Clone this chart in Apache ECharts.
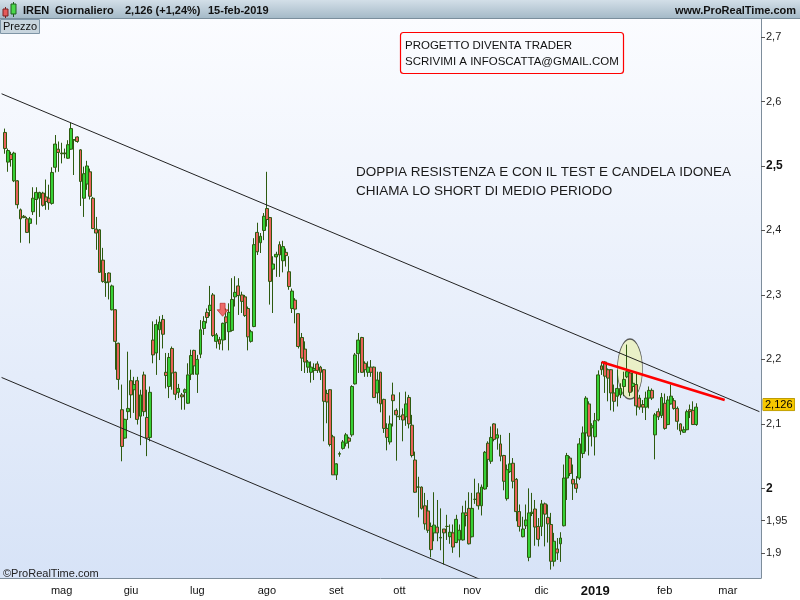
<!DOCTYPE html>
<html>
<head>
<meta charset="utf-8">
<title>IREN Giornaliero</title>
<script src="https://cdn.jsdelivr.net/npm/echarts@6/dist/echarts.min.js"></script>
<style>
html, body { margin: 0; padding: 0; background: #fff; }
#chart { width: 800px; height: 600px; }
</style>
</head>
<body>
<div id="chart"></div>
<script>
// giorni di chiusura della borsa nel periodo
var holidays = ['2018-05-01', '2018-08-15', '2018-12-24', '2018-12-25', '2018-12-26', '2018-12-31', '2019-01-01'];
var axisStart = '2018-04-04';   // slot vuoto prima della prima candela
var axisEnd = '2019-03-15';
var firstCandle = '2018-04-05';
var monthNames = ['gen', 'feb', 'mar', 'apr', 'mag', 'giu', 'lug', 'ago', 'set', 'ott', 'nov', 'dic'];
var priceTicks = [1.9, 1.95, 2, 2.1, 2.2, 2.3, 2.4, 2.5, 2.6, 2.7];
var boldTicks = [2, 2.5];
var lastPrice = 2.126;

// trendline e annotazioni [data, prezzo]
var channelTop = [['2018-04-04', 2.612], ['2019-03-15', 2.119]];
var channelBottom = [['2018-04-04', 2.172], ['2019-03-15', 1.676]];
var resistance = [['2019-01-04', 2.196], ['2019-02-28', 2.137]];
var ellipseAt = [['2019-01-17', 2.185]];
var arrowAt = [['2018-07-12', 2.277]];

// candele giornaliere [open, close, low, high]
var candles = [
    [2.552, 2.527, 2.519, 2.558], [2.506, 2.524, 2.491, 2.527], [2.518, 2.510, 2.499, 2.522], [2.477, 2.520, 2.475, 2.522],
    [2.477, 2.440, 2.434, 2.478], [2.432, 2.418, 2.381, 2.434], [2.422, 2.420, 2.419, 2.424], [2.418, 2.397, 2.396, 2.421],
    [2.411, 2.418, 2.380, 2.421], [2.429, 2.450, 2.424, 2.467], [2.448, 2.459, 2.409, 2.467], [2.450, 2.459, 2.421, 2.460],
    [2.458, 2.439, 2.437, 2.460], [2.452, 2.445, 2.432, 2.479], [2.450, 2.443, 2.432, 2.471], [2.442, 2.490, 2.440, 2.498],
    [2.498, 2.534, 2.490, 2.548], [2.526, 2.521, 2.491, 2.538], [2.520, 2.519, 2.504, 2.536], [2.519, 2.520, 2.512, 2.527],
    [2.512, 2.533, 2.511, 2.540], [2.526, 2.558, 2.525, 2.567], [2.540, 2.541, 2.486, 2.541], [2.545, 2.538, 2.536, 2.546],
    [2.525, 2.476, 2.438, 2.526], [2.450, 2.488, 2.421, 2.499], [2.472, 2.500, 2.463, 2.508], [2.491, 2.453, 2.448, 2.496],
    [2.450, 2.403, 2.402, 2.452], [2.402, 2.396, 2.370, 2.421], [2.401, 2.335, 2.334, 2.402], [2.354, 2.321, 2.319, 2.373],
    [2.319, 2.320, 2.297, 2.334], [2.334, 2.320, 2.293, 2.335], [2.277, 2.314, 2.276, 2.316], [2.277, 2.228, 2.184, 2.278],
    [2.225, 2.169, 2.153, 2.226], [2.122, 2.065, 2.042, 2.161], [2.078, 2.107, 2.077, 2.108], [2.119, 2.124, 2.106, 2.212],
    [2.167, 2.145, 2.109, 2.184], [2.153, 2.161, 2.117, 2.173], [2.167, 2.107, 2.099, 2.173], [2.112, 2.145, 2.067, 2.153],
    [2.176, 2.119, 2.112, 2.181], [2.110, 2.078, 2.050, 2.153], [2.079, 2.149, 2.073, 2.158], [2.230, 2.207, 2.194, 2.259],
    [2.210, 2.254, 2.176, 2.262], [2.246, 2.258, 2.199, 2.267], [2.262, 2.239, 2.217, 2.269], [2.180, 2.175, 2.155, 2.210],
    [2.158, 2.203, 2.140, 2.210], [2.217, 2.179, 2.153, 2.220], [2.180, 2.146, 2.137, 2.181], [2.149, 2.155, 2.140, 2.162],
    [2.145, 2.142, 2.122, 2.148], [2.149, 2.153, 2.122, 2.155], [2.132, 2.176, 2.131, 2.194], [2.177, 2.206, 2.168, 2.215],
    [2.214, 2.190, 2.176, 2.215], [2.177, 2.200, 2.148, 2.207], [2.208, 2.246, 2.202, 2.261], [2.248, 2.259, 2.238, 2.267],
    [2.273, 2.265, 2.256, 2.279], [2.276, 2.284, 2.267, 2.314], [2.300, 2.237, 2.235, 2.303], [2.228, 2.238, 2.217, 2.241],
    [2.231, 2.224, 2.215, 2.235], [2.230, 2.256, 2.214, 2.257], [2.266, 2.257, 2.230, 2.279], [2.243, 2.273, 2.214, 2.287],
    [2.245, 2.293, 2.243, 2.326], [2.297, 2.304, 2.282, 2.329], [2.314, 2.299, 2.269, 2.326], [2.300, 2.290, 2.272, 2.305],
    [2.297, 2.268, 2.266, 2.300], [2.279, 2.235, 2.214, 2.282], [2.228, 2.243, 2.226, 2.246], [2.251, 2.378, 2.250, 2.388],
    [2.397, 2.367, 2.362, 2.412], [2.381, 2.391, 2.365, 2.396], [2.400, 2.422, 2.385, 2.427], [2.434, 2.417, 2.406, 2.491],
    [2.420, 2.321, 2.285, 2.421], [2.340, 2.348, 2.272, 2.360], [2.359, 2.363, 2.328, 2.367], [2.378, 2.362, 2.328, 2.383],
    [2.353, 2.375, 2.335, 2.384], [2.366, 2.361, 2.344, 2.372], [2.336, 2.313, 2.308, 2.360], [2.279, 2.306, 2.272, 2.310],
    [2.292, 2.278, 2.256, 2.295], [2.271, 2.220, 2.217, 2.271], [2.234, 2.202, 2.182, 2.241], [2.216, 2.196, 2.179, 2.228],
    [2.188, 2.196, 2.179, 2.199], [2.180, 2.188, 2.164, 2.197], [2.183, 2.186, 2.168, 2.194], [2.193, 2.183, 2.179, 2.197],
    [2.188, 2.180, 2.168, 2.190], [2.184, 2.135, 2.073, 2.185], [2.147, 2.134, 2.101, 2.153], [2.153, 2.068, 2.065, 2.154],
    [2.080, 2.021, 2.021, 2.083], [2.021, 2.038, 2.013, 2.039], [2.053, 2.054, 2.049, 2.057], [2.062, 2.072, 2.060, 2.075],
    [2.070, 2.083, 2.065, 2.086], [2.078, 2.073, 2.062, 2.080], [2.083, 2.158, 2.080, 2.160], [2.162, 2.207, 2.161, 2.210],
    [2.209, 2.230, 2.179, 2.241], [2.234, 2.180, 2.179, 2.235], [2.194, 2.184, 2.173, 2.197], [2.180, 2.188, 2.173, 2.197],
    [2.188, 2.180, 2.173, 2.199], [2.188, 2.141, 2.140, 2.189], [2.148, 2.168, 2.132, 2.181], [2.180, 2.131, 2.118, 2.181],
    [2.138, 2.093, 2.086, 2.139], [2.093, 2.079, 2.059, 2.101], [2.072, 2.100, 2.068, 2.113], [2.145, 2.136, 2.096, 2.164],
    [2.121, 2.114, 2.043, 2.124], [2.112, 2.111, 2.106, 2.149], [2.114, 2.106, 2.073, 2.124], [2.111, 2.131, 2.097, 2.150],
    [2.141, 2.100, 2.093, 2.145], [2.098, 2.051, 2.048, 2.114], [2.044, 1.994, 1.993, 2.057], [2.002, 2.002, 1.955, 2.018],
    [2.002, 1.969, 1.967, 2.003], [1.973, 1.945, 1.936, 1.993], [1.965, 1.935, 1.931, 1.982], [1.941, 1.905, 1.893, 1.947],
    [1.931, 1.943, 1.918, 1.994], [1.940, 1.931, 1.918, 1.982], [1.923, 1.924, 1.904, 1.969], [1.937, 1.931, 1.882, 1.937],
    [1.941, 1.941, 1.920, 1.959], [1.925, 1.932, 1.914, 1.944], [1.931, 1.909, 1.900, 1.944], [1.916, 1.952, 1.915, 1.959],
    [1.920, 1.935, 1.893, 1.944], [1.920, 1.962, 1.919, 1.973], [1.962, 1.958, 1.941, 1.981], [1.969, 1.914, 1.913, 1.994],
    [1.925, 1.969, 1.924, 1.993], [1.983, 1.983, 1.976, 2.015], [1.993, 1.973, 1.967, 2.008], [1.973, 2.002, 1.958, 2.006],
    [1.999, 2.056, 1.998, 2.058], [2.070, 2.045, 2.002, 2.073], [2.042, 2.079, 2.038, 2.096], [2.100, 2.076, 2.073, 2.101],
    [2.078, 2.083, 2.060, 2.093], [2.069, 2.050, 2.042, 2.083], [2.051, 2.011, 1.997, 2.052], [1.984, 2.029, 1.981, 2.037],
    [2.026, 2.038, 2.024, 2.086], [2.039, 2.011, 2.000, 2.047], [2.014, 1.964, 1.949, 2.016], [1.964, 1.941, 1.933, 1.975],
    [1.925, 1.937, 1.924, 1.956], [1.942, 1.951, 1.937, 1.975], [1.893, 1.962, 1.887, 2.000], [1.961, 1.963, 1.957, 1.993],
    [1.968, 1.940, 1.911, 1.982], [1.941, 1.921, 1.910, 1.954], [1.941, 1.976, 1.926, 1.982], [1.976, 1.960, 1.910, 1.978],
    [1.955, 1.945, 1.916, 1.975], [1.944, 1.887, 1.874, 1.962], [1.887, 1.918, 1.879, 1.931], [1.906, 1.900, 1.889, 1.923],
    [1.914, 1.923, 1.886, 1.932], [1.942, 2.016, 1.941, 2.037], [2.016, 2.051, 1.982, 2.055], [2.047, 2.023, 2.019, 2.050],
    [2.014, 2.007, 1.982, 2.037], [2.007, 2.000, 1.993, 2.019], [2.016, 2.069, 2.013, 2.078], [2.054, 2.086, 2.047, 2.096],
    [2.086, 2.140, 2.057, 2.143], [2.131, 2.081, 2.051, 2.135], [2.094, 2.097, 2.065, 2.101], [2.080, 2.105, 2.051, 2.117],
    [2.106, 2.176, 2.104, 2.183], [2.190, 2.184, 2.176, 2.196], [2.196, 2.174, 2.148, 2.197], [2.184, 2.171, 2.135, 2.186],
    [2.184, 2.148, 2.121, 2.185], [2.148, 2.135, 2.119, 2.161], [2.143, 2.155, 2.127, 2.184], [2.145, 2.155, 2.140, 2.163],
    [2.158, 2.169, 2.143, 2.181], [2.173, 2.181, 2.171, 2.223], [2.179, 2.149, 2.143, 2.181], [2.158, 2.163, 2.150, 2.179],
    [2.161, 2.128, 2.113, 2.179], [2.140, 2.126, 2.122, 2.145], [2.130, 2.126, 2.117, 2.137], [2.126, 2.140, 2.106, 2.150],
    [2.140, 2.152, 2.124, 2.158], [2.152, 2.140, 2.137, 2.155], [2.083, 2.114, 2.045, 2.117], [2.119, 2.111, 2.106, 2.124],
    [2.113, 2.141, 2.109, 2.148], [2.132, 2.093, 2.091, 2.147], [2.099, 2.137, 2.098, 2.143], [2.131, 2.143, 2.130, 2.161],
    [2.136, 2.124, 2.122, 2.140], [2.124, 2.104, 2.091, 2.127], [2.100, 2.089, 2.083, 2.101], [2.087, 2.091, 2.086, 2.096],
    [2.091, 2.119, 2.090, 2.122], [2.122, 2.119, 2.109, 2.130], [2.121, 2.099, 2.099, 2.135], [2.099, 2.126, 2.097, 2.132]
];

function tradingDays(from, to) {
    var out = [];
    var d = new Date(from + 'T00:00:00Z');
    var end = new Date(to + 'T00:00:00Z');
    while (d <= end) {
        var s = d.toISOString().slice(0, 10);
        var wd = d.getUTCDay();
        if (wd !== 0 && wd !== 6 && holidays.indexOf(s) < 0) out.push(s);
        d.setUTCDate(d.getUTCDate() + 1);
    }
    return out;
}

var dates = tradingDays(axisStart, axisEnd);
var startIdx = dates.indexOf(firstCandle);
var ohlc = dates.map(function (d, i) {
    var k = i - startIdx;
    return (k >= 0 && k < candles.length) ? candles[k] : '-';
});

function isMonthStart(i) {
    return i > 0 && dates[i].slice(0, 7) !== dates[i - 1].slice(0, 7);
}
function monthLabel(v) {
    var m = +v.slice(5, 7);
    if (m === 1) return '{y|' + v.slice(0, 4) + '}';
    return monthNames[m - 1];
}
function fmtPrice(v) {
    return String(v).replace('.', ',');
}

var font = 'Arial, "Liberation Sans", sans-serif';
var chart = echarts.init(document.getElementById('chart'));

chart.setOption({
    animation: false,
    backgroundColor: '#ffffff',
    textStyle: { fontFamily: font },
    grid: { left: 0, right: 39, top: 18, bottom: 22, containLabel: false },
    xAxis: {
        type: 'category',
        data: dates,
        boundaryGap: true,
        axisLine: { lineStyle: { color: '#7d8d9b', width: 1 } },
        axisTick: { interval: isMonthStart, alignWithLabel: true, length: 5, lineStyle: { color: '#7d8d9b' } },
        axisLabel: {
            interval: isMonthStart,
            formatter: monthLabel,
            fontSize: 11,
            color: '#111',
            margin: 7,
            rich: { y: { fontWeight: 'bold', fontSize: 13, color: '#111', fontFamily: font } }
        },
        splitLine: { show: false }
    },
    yAxis: {
        type: 'value',
        position: 'right',
        min: 1.861,
        max: 2.7295,
        axisLine: { show: true, lineStyle: { color: '#7d8d9b' } },
        axisTick: { show: true, length: 4, customValues: priceTicks, lineStyle: { color: '#555' } },
        axisLabel: {
            customValues: priceTicks,
            fontSize: 11,
            color: '#222',
            margin: 5,
            formatter: function (v) {
                var s = fmtPrice(v);
                return boldTicks.indexOf(v) >= 0 ? '{b|' + s + '}' : s;
            },
            rich: { b: { fontWeight: 'bold', fontSize: 12, color: '#111', fontFamily: font } }
        },
        splitLine: { show: false }
    },
    series: [
        {
            name: 'ellisse',
            type: 'scatter',
            data: ellipseAt,
            symbol: 'circle',
            symbolSize: [25, 60],
            silent: true,
            z: 1,
            itemStyle: { color: 'rgba(236,241,170,0.8)', borderColor: '#333', borderWidth: 1 }
        },
        {
            name: 'IREN',
            type: 'candlestick',
            data: ohlc,
            barWidth: 3.4,
            z: 3,
            itemStyle: {
                color: '#36d136',
                color0: '#e8625a',
                borderColor: '#2d5a10',
                borderColor0: '#2d5a10',
                borderWidth: 1
            },
            markLine: {
                silent: true,
                symbol: ['none', 'none'],
                lineStyle: { color: 'rgba(0,0,0,0)', width: 0 },
                label: {
                    show: true,
                    position: 'end',
                    distance: 2,
                    formatter: fmtPrice(lastPrice),
                    backgroundColor: '#f6c800',
                    borderColor: '#8a7400',
                    borderWidth: 0.5,
                    color: '#000',
                    fontSize: 11,
                    padding: [1, 2, 0, 2]
                },
                data: [{ yAxis: lastPrice }]
            }
        },
        {
            name: 'canale alto',
            type: 'line',
            data: channelTop,
            symbol: 'none',
            silent: true,
            z: 4,
            lineStyle: { color: '#222', width: 1 }
        },
        {
            name: 'canale basso',
            type: 'line',
            data: channelBottom,
            symbol: 'none',
            silent: true,
            z: 4,
            lineStyle: { color: '#222', width: 1 }
        },
        {
            name: 'resistenza',
            type: 'line',
            data: resistance,
            symbol: 'none',
            silent: true,
            z: 5,
            lineStyle: { color: '#ff0000', width: 2.5 }
        },
        {
            name: 'freccia',
            type: 'scatter',
            data: arrowAt,
            symbol: 'path://M3,0L8,0L8,6L11,6L5.5,12L0,6L3,6Z',
            symbolSize: [11, 13],
            silent: true,
            z: 5,
            itemStyle: { color: '#ee4a46', borderColor: '#b52020', borderWidth: 0.8 }
        }
    ],
    graphic: [
        {
            type: 'rect', z: -10, silent: true,
            shape: { x: 0, y: 18, width: 761, height: 560 },
            style: { fill: new echarts.graphic.LinearGradient(0, 0, 0, 1, [
                { offset: 0, color: '#fbfcff' }, { offset: 1, color: '#d7e3f7' }
            ]) }
        },
        {
            type: 'rect', z: 100, silent: true,
            shape: { x: 0, y: 0, width: 800, height: 18 },
            style: { fill: new echarts.graphic.LinearGradient(0, 0, 0, 1, [
                { offset: 0, color: '#d3dfe8' }, { offset: 1, color: '#a5bac8' }
            ]) }
        },
        { type: 'line', z: 100, silent: true, shape: { x1: 0, y1: 18.5, x2: 800, y2: 18.5 }, style: { stroke: '#7a8e9c', lineWidth: 1 } },
        { type: 'line', z: 100, silent: true, shape: { x1: 5.5, y1: 7, x2: 5.5, y2: 18 }, style: { stroke: '#7a2020', lineWidth: 1 } },
        { type: 'rect', z: 101, silent: true, shape: { x: 3, y: 9, width: 5, height: 7 }, style: { fill: '#e45a5a', stroke: '#7a2020', lineWidth: 1 } },
        { type: 'line', z: 100, silent: true, shape: { x1: 13.5, y1: 2, x2: 13.5, y2: 17 }, style: { stroke: '#1f5f1f', lineWidth: 1 } },
        { type: 'rect', z: 101, silent: true, shape: { x: 11, y: 4, width: 5, height: 10 }, style: { fill: '#4bd84b', stroke: '#1f5f1f', lineWidth: 1 } },
        { type: 'text', z: 101, silent: true, x: 23, y: 11, style: { text: 'IREN', font: 'bold 11px ' + font, fill: '#111', verticalAlign: 'middle' } },
        { type: 'text', z: 101, silent: true, x: 55, y: 11, style: { text: 'Giornaliero', font: 'bold 11px ' + font, fill: '#111', verticalAlign: 'middle' } },
        { type: 'text', z: 101, silent: true, x: 125, y: 11, style: { text: '2,126 (+1,24%)', font: 'bold 11px ' + font, fill: '#111', verticalAlign: 'middle' } },
        { type: 'text', z: 101, silent: true, x: 208, y: 11, style: { text: '15-feb-2019', font: 'bold 11px ' + font, fill: '#111', verticalAlign: 'middle' } },
        { type: 'text', z: 101, silent: true, x: 796, y: 11, style: { text: 'www.ProRealTime.com', font: 'bold 11px ' + font, fill: '#111', align: 'right', verticalAlign: 'middle' } },
        {
            type: 'rect', z: 100, silent: true,
            shape: { x: 0.5, y: 19.5, width: 39, height: 14 },
            style: { fill: '#c8d5de', stroke: '#7f95a6', lineWidth: 1 }
        },
        { type: 'text', z: 101, silent: true, x: 3, y: 27, style: { text: 'Prezzo', font: '11px ' + font, fill: '#111', verticalAlign: 'middle' } },
        {
            type: 'rect', z: 100, silent: true,
            shape: { x: 400.5, y: 32.5, width: 223, height: 41, r: 3 },
            style: { fill: 'rgba(255,255,255,0)', stroke: '#ff0000', lineWidth: 1.2 }
        },
        { type: 'text', z: 101, silent: true, x: 405, y: 45.5, style: { text: 'PROGETTO DIVENTA TRADER', font: '11.5px ' + font, fill: '#111', verticalAlign: 'middle' } },
        { type: 'text', z: 101, silent: true, x: 405, y: 61.5, style: { text: 'SCRIVIMI A INFOSCATTA@GMAIL.COM', font: '11.5px ' + font, fill: '#111', verticalAlign: 'middle' } },
        { type: 'text', z: 101, silent: true, x: 356, y: 172.5, style: { text: 'DOPPIA RESISTENZA E CON IL TEST E CANDELA IDONEA', font: '13.5px ' + font, fill: '#1a1a1a', verticalAlign: 'middle' } },
        { type: 'text', z: 101, silent: true, x: 356, y: 191, style: { text: 'CHIAMA LO SHORT DI MEDIO PERIODO', font: '13.5px ' + font, fill: '#1a1a1a', verticalAlign: 'middle' } },
        { type: 'text', z: 101, silent: true, x: 3, y: 574, style: { text: '\u00a9ProRealTime.com', font: '11px ' + font, fill: '#222', verticalAlign: 'middle' } }
    ]
});
</script>
</body>
</html>
